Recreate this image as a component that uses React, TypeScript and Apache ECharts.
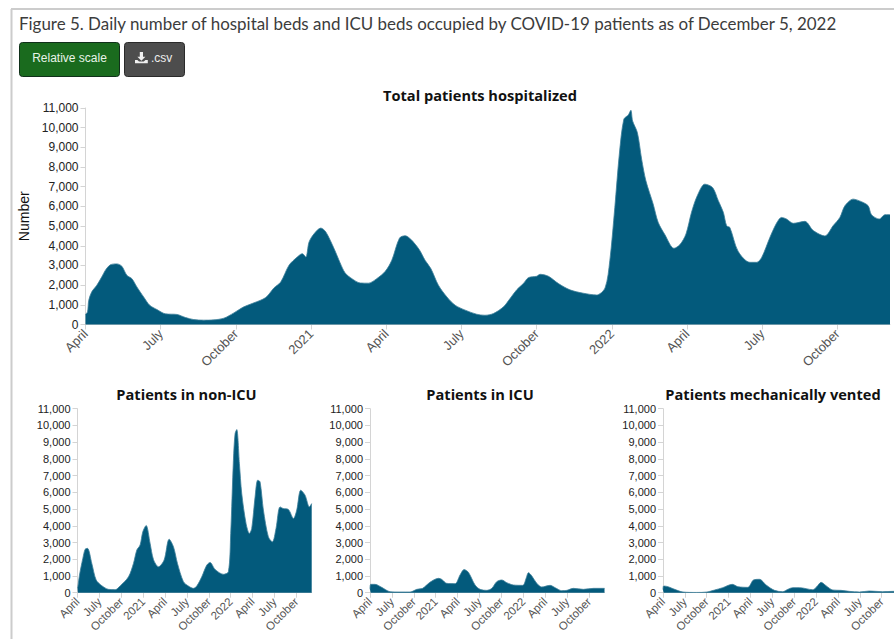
import React, { useEffect, useRef } from "react";
import * as echarts from "echarts";

const heading = "Figure 5. Daily number of hospital beds and ICU beds occupied by COVID-19 patients as of December 5, 2022";
const panelTitles = ["Total patients hospitalized", "Patients in non-ICU", "Patients in ICU", "Patients mechanically vented"];
const quarterLabels = ["April", "July", "October", "2021", "April", "July", "October", "2022", "April", "July", "October"];
const yMax = 11000;

// x = months since April 1, 2020
const totalMonths = [0,.08,.13,.25,.45,.65,.79,.99,1.25,1.45,1.65,1.85,2.05,2.32,2.56,2.85,3.19,3.65,3.99,4.32,4.72,5.12,5.52,5.92,6.32,6.72,7.19,7.52,7.79,8.12,8.45,8.65,8.79,8.92,9.12,9.39,9.59,9.92,10.16,10.36,10.63,10.96,11.29,11.62,11.96,12.22,12.53,12.75,12.98,13.32,13.55,13.78,14.08,14.42,14.75,15.15,15.61,15.94,16.28,16.68,16.94,17.21,17.47,17.67,18,18.14,18.47,18.87,19.33,19.86,20.39,20.73,20.92,21.12,21.3,21.48,21.66,21.76,21.83,22.02,22.19,22.36,22.65,22.85,23.12,23.48,23.72,23.96,24.18,24.41,24.71,25.02,25.25,25.45,25.58,25.71,26.04,26.51,26.78,26.98,27.31,27.57,27.77,27.97,28.24,28.7,29.04,29.5,29.83,30.1,30.3,30.63,30.96,31.23,31.36,31.67,31.9,32.1];
const totalValues = [520,640,1230,1660,1990,2420,2750,3030,3080,2960,2500,2330,1910,1400,980,760,540,510,355,250,220,235,320,590,900,1100,1370,1860,2160,3010,3430,3600,3430,4190,4610,4900,4700,3850,3130,2620,2330,2110,2100,2330,2700,3260,4390,4510,4330,3800,3260,2840,2000,1400,980,730,520,470,560,900,1320,1770,2080,2380,2450,2550,2450,2080,1760,1590,1500,1860,3240,5950,8650,10430,10650,10880,10340,9750,8400,7300,6120,5190,4560,3870,4060,4600,5700,6540,7130,6960,6290,5700,5020,4930,3720,3160,3160,3410,4430,5140,5440,5360,5140,5240,4770,4500,5020,5440,6030,6370,6240,6030,5580,5360,5580,5580];

const nonIcuMonths = [0,.05,.27,.73,1.05,1.37,1.96,2.56,3.33,4.25,5.16,5.84,6.99,7.67,8.13,8.58,8.95,9.41,9.95,10.41,11.1,11.87,12.56,13.15,13.7,14.52,15.2,15.89,16.35,17.03,17.72,18.17,18.86,20,20.68,21,21.37,21.6,21.83,22.19,22.51,23.1,23.56,23.88,24.34,24.7,25.02,25.48,26.16,26.71,27.21,27.76,28.22,28.9,29.6,30.05,30.6,31.19,31.78,32.1];
const nonIcuValues = [300,360,1050,2050,2600,2650,1750,760,420,200,180,400,950,1750,2550,2850,3640,4020,2950,1990,1550,1950,3200,2750,1750,660,400,260,400,950,1650,1810,1390,1100,1250,3540,7920,9510,9750,7720,5930,4140,3540,3840,5730,6730,6630,4940,3340,3040,3840,5130,5030,4980,4440,4940,6130,5830,5130,5330];

const icuMonths = [0,.09,.68,1.6,2.74,4.1,5.5,6.4,7.2,8.2,9.36,9.8,10.5,11.64,12.33,12.88,13.47,14.38,15.07,15.98,16.67,17.35,18.04,18.72,19.63,20.91,21.37,21.69,22.15,22.83,23.5,24.66,25.34,26.26,26.94,27.85,29.2,30.6,32.1];
const icuValues = [200,500,500,320,60,40,40,200,260,620,860,800,560,540,1060,1380,1220,460,200,140,260,660,760,600,460,440,860,1200,1000,560,340,440,300,120,140,260,200,260,260];

const ventMonths = [0,.09,.68,1.6,2.74,4.57,6.03,7.08,8.2,9.5,10.27,11.64,12.42,13.24,14.16,15.3,16.44,17.12,17.8,18.72,20.55,21.1,21.7,22.37,23.3,24.43,25.57,26.94,28.3,30.14,31.6,31.7];
const ventValues = [180,400,360,200,40,15,40,160,300,500,360,320,760,800,460,140,60,200,300,300,180,360,620,420,160,140,80,40,100,60,80,80];

const fillColor = "#035a7c";
const panels = [
  { months: totalMonths, values: totalValues, left: 85.5, top: 108, width: 804.5, height: 216.5, xMax: 32.1, font: 12, xFont: 13 },
  { months: nonIcuMonths, values: nonIcuValues, left: 77.5, top: 408.7, width: 234.2, height: 184, xMax: 32.1, font: 11, xFont: 11.5 },
  { months: icuMonths, values: icuValues, left: 370, top: 408.7, width: 234.5, height: 184, xMax: 32.1, font: 11, xFont: 11.5 },
  { months: ventMonths, values: ventValues, left: 663, top: 408.7, width: 231, height: 184, xMax: 31.7, font: 11, xFont: 11.5 },
];
const titleCentres = [480, 186.5, 480, 773];
const titleTops = [87, 386, 386, 386];

const iconPath = "M6 0h4v6h3l-5 5-5-5h3zM0 10h3l2 2h6l2-2h3v4H0z";

export default function App() {
  const ref = useRef<HTMLDivElement>(null);
  useEffect(() => {
    document.body.style.margin = "0";
    echarts.graphic.registerShape("dlIcon", echarts.graphic.extendPath(iconPath, {}));
    const chart = echarts.init(ref.current!, null, { renderer: "svg" });
    chart.setOption({
      animation: false,
      backgroundColor: "#fff",
      title: [
        {
          text: heading, left: 19, top: 15, padding: 0,
          textStyle: { fontFamily: "Lato", fontSize: 16.95, fontWeight: "normal", color: "#3c3c3c" },
        },
        ...panelTitles.map((t, i) => ({
          text: t, left: titleCentres[i], top: titleTops[i], padding: 0, textAlign: "center",
          textStyle: { fontFamily: "Open Sans", fontSize: 14.6, fontWeight: "bold", color: "#111" },
        })),
      ],
      grid: panels.map((p) => ({ left: p.left, top: p.top, width: p.width, height: p.height, containLabel: false })),
      xAxis: panels.map((p, i) => ({
        type: "value", gridIndex: i, min: 0, max: p.xMax, interval: 3,
        splitLine: { show: false },
        axisLine: { show: true, onZero: false, lineStyle: { color: "#d4d4d4", width: 1 } },
        axisTick: { show: true, length: 5, lineStyle: { color: "#d4d4d4" } },
        axisLabel: {
          rotate: 45, margin: 7, fontFamily: "Liberation Sans", fontSize: p.xFont, color: "#555",
          showMaxLabel: false,
          formatter: (v: number) => (v % 3 === 0 ? quarterLabels[v / 3] ?? "" : ""),
        },
      })),
      yAxis: panels.map((p, i) => ({
        type: "value", gridIndex: i, min: 0, max: yMax, interval: 1000,
        splitLine: { show: false },
        axisLine: { show: true, lineStyle: { color: "#d4d4d4", width: 1 } },
        axisTick: { show: true, length: 5, lineStyle: { color: "#d4d4d4" } },
        axisLabel: {
          margin: 7, fontFamily: "Liberation Sans", fontSize: p.font, color: "#222",
          formatter: (v: number) => v.toLocaleString("en-US"),
        },
        ...(i === 0
          ? {
              name: "Number", nameLocation: "middle", nameGap: 54, nameRotate: 90,
              nameTextStyle: { fontFamily: "Liberation Sans", fontSize: 14, color: "#111" },
            }
          : {}),
      })),
      series: panels.map((p, i) => ({
        type: "line", xAxisIndex: i, yAxisIndex: i, symbol: "none", silent: true,
        smooth: 0.3,
        lineStyle: { color: "#3d7f99", width: 0.8 },
        areaStyle: { color: fillColor, opacity: 1 },
        data: p.months.map((m, j) => [m, p.values[j]]),
      })),
      graphic: [
        { type: "line", shape: { x1: 11.5, y1: 9, x2: 11.5, y2: 639 }, style: { stroke: "#ccc", lineWidth: 2 } },
        { type: "line", shape: { x1: 11, y1: 9, x2: 894, y2: 9 }, style: { stroke: "#ccc", lineWidth: 2 } },
        { type: "rect", shape: { x: 19.5, y: 42.5, width: 100, height: 34, r: 3 }, style: { fill: "#1a6b1e", stroke: "#10301a", lineWidth: 1 } },
        { type: "text", x: 69.5, y: 58, style: { text: "Relative scale", fill: "#e8f4e8", font: "12px 'Liberation Sans'", textAlign: "center", textVerticalAlign: "middle" } },
        { type: "rect", shape: { x: 124.5, y: 42.5, width: 60, height: 34, r: 3 }, style: { fill: "#4d4d4d", stroke: "#2a2a2a", lineWidth: 1 } },
        { type: "dlIcon", x: 135, y: 52, scaleX: 0.8, scaleY: 0.8, style: { fill: "#f0f0f0" } },
        { type: "text", x: 151, y: 58, style: { text: ".csv", fill: "#eee", font: "12px 'Liberation Sans'", textAlign: "left", textVerticalAlign: "middle" } },
      ],
    });
    return () => chart.dispose();
  }, []);
  return <div ref={ref} style={{ position: "absolute", left: 0, top: 0, width: 894, height: 639 }} />;
}
